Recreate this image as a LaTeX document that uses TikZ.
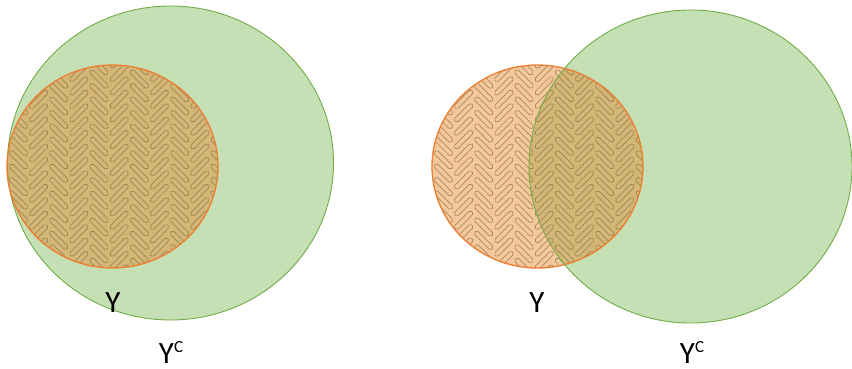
\documentclass[tikz,border=0pt]{standalone}
\usepackage{fontspec}
\setmainfont{Carlito}
\definecolor{gfill}{HTML}{C6E0B5}
\definecolor{gline}{HTML}{70AD47}
\definecolor{ofill}{HTML}{F5C89B}
\definecolor{tan}{HTML}{D4B676}
\definecolor{oline}{HTML}{ED7D31}
\definecolor{pline}{RGB}{135,112,72}
\tikzset{
  brick/.style={draw=pline, draw opacity=0.7, line width=0.7pt, rounded corners=1.8pt},
  lbl/.style={font=\fontsize{31}{31}\selectfont, inner sep=0pt, anchor=base},
}
\newcommand{\bricks}[2]{%
  \begin{scope}[shift={(#1,#2)}, x=9.5pt, y=9.5pt, rotate=45]
  \foreach \i in {-12,...,12}{\foreach \j in {-4,...,4}{
    \pgfmathsetmacro\px{\i+3*\j}\pgfmathsetmacro\py{\i-3*\j}
    \draw[brick] (\px+0.25,\py+0.25) rectangle ++(2.5,0.5);
    \draw[brick] (\px+3.25,\py-1.75) rectangle ++(0.5,2.5);
  }}
  \end{scope}}
\begin{document}
\begin{tikzpicture}[x=1pt,y=-1pt]
\useasboundingbox (0,0) rectangle (852,369);
% ---- left diagram
\fill[gfill] (170.5,163) ellipse [x radius=163, y radius=157];
\fill[tan] (112.5,166.5) ellipse [x radius=105.5, y radius=101.5];
\begin{scope}
  \clip (112.5,166.5) ellipse [x radius=105.5, y radius=101.5];
  \bricks{112.5}{166.5}
\end{scope}
\draw[gline, line width=0.9pt] (170.5,163) ellipse [x radius=163, y radius=157];
\draw[oline, line width=1.3pt] (112.5,166.5) ellipse [x radius=105.5, y radius=101.5];
\node[lbl] (yl) at (113,312) {Y};
\node[lbl] (ycl) at (171,363) {Y\raisebox{11pt}{\fontsize{17}{17}\selectfont C}};
% ---- right diagram
\fill[gfill] (690.5,166.5) ellipse [x radius=161.5, y radius=156.5];
\fill[ofill] (537.5,166.5) ellipse [x radius=105.5, y radius=101.5];
\begin{scope}
  \clip (690.5,166.5) ellipse [x radius=161.5, y radius=156.5];
  \fill[tan] (537.5,166.5) ellipse [x radius=105.5, y radius=101.5];
\end{scope}
\begin{scope}
  \clip (537.5,166.5) ellipse [x radius=105.5, y radius=101.5];
  \bricks{537.5}{166.5}
\end{scope}
\draw[oline, line width=1.3pt] (537.5,166.5) ellipse [x radius=105.5, y radius=101.5];
\draw[gline, line width=0.9pt] (690.5,166.5) ellipse [x radius=161.5, y radius=156.5];
\node[lbl] (yr) at (537,312) {Y};
\node[lbl] (ycr) at (692,363) {Y\raisebox{11pt}{\fontsize{17}{17}\selectfont C}};
\end{tikzpicture}
\end{document}
